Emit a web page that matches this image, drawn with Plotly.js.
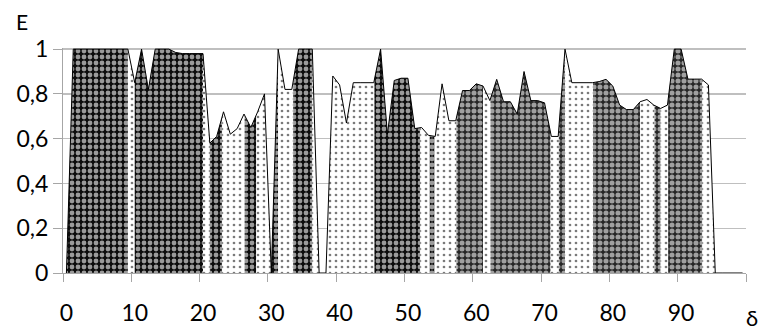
<!DOCTYPE html>
<html>
<head>
<meta charset="utf-8">
<script src="https://cdn.plot.ly/plotly-3.0.1.min.js"></script>
<style>html,body{margin:0;padding:0;background:#fff;}#chart{width:760px;height:333px;}</style>
</head>
<body>
<div id="chart"></div>
<script>
// ---- data ----
const delta = Array.from({length: 100}, (_, i) => i);
const E = [
  0, 1, 1, 1, 1, 1, 1, 1, 1, 1,
  0.85, 1, 0.82, 1, 1, 1, 0.985, 0.98, 0.98, 0.98,
  0.98, 0.58, 0.61, 0.72, 0.62, 0.645, 0.71, 0.65, 0.72, 0.80,
  0, 1, 0.82, 0.82, 1, 1, 1, 0, 0, 0.88,
  0.84, 0.67, 0.85, 0.85, 0.85, 0.85, 1, 0.62, 0.86, 0.87,
  0.87, 0.645, 0.65, 0.615, 0.61, 0.845, 0.68, 0.68, 0.815, 0.815,
  0.845, 0.835, 0.77, 0.865, 0.765, 0.765, 0.71, 0.90, 0.77, 0.77,
  0.76, 0.61, 0.61, 1, 0.85, 0.85, 0.85, 0.85, 0.855, 0.865,
  0.835, 0.75, 0.73, 0.73, 0.765, 0.775, 0.75, 0.735, 0.75, 1,
  1, 0.866, 0.866, 0.866, 0.84, 0, 0, 0, 0, 0
];
// pattern bands along δ
const bandStart = [0, 9, 10, 20, 21, 22.8, 26.1, 27.8, 30, 31, 33.2, 36, 38, 45.1, 51.8, 53.2, 53.9, 57.1, 61, 62.1, 70.9, 72.1, 73, 77.1, 84, 86.1, 87, 88.1, 93.1];
const bandEnd   = [9, 10, 20, 21, 22.8, 26.1, 27.8, 30, 31, 33.2, 36, 37, 45.1, 51.8, 53.2, 53.9, 57.1, 61, 62.1, 70.9, 72.1, 73, 77.1, 84, 86.1, 87, 88.1, 93.1, 95];
const bandKind  = ['D1','L','D1','L','D1','L','D1','L','D1','L','D1','L','L','D1','L','D1','L','D2','L','D2','L','D2','L','D2','L','D2','L','D2','L'];
const xLabelVals = [0, 10, 20, 30, 40, 50, 60, 70, 80, 90];
const xLabelText = ['0', '10', '20', '30', '40', '50', '60', '70', '80', '90'];
const xTickMarks = [-0.5, 9.5, 19.5, 29.5, 39.5, 49.5, 59.5, 69.5, 79.5, 89.5, 99.5];
const yTickVals = [0, 0.2, 0.4, 0.6, 0.8, 1];
const yTickText = ['0', '0,2', '0,4', '0,6', '0,8', '1'];

// ---- styles ----
const patterns = {
  D1: {shape: '.', bgcolor: '#0c0c0c', fgcolor: '#9a9a9a', size: 6, solidity: 0.5},
  D2: {shape: '.', bgcolor: '#262626', fgcolor: '#a0a0a0', size: 6, solidity: 0.55},
  L:  {shape: '.', bgcolor: '#ffffff', fgcolor: '#7a7a7a', size: 6, solidity: 0.16}
};

function interp(x) {
  const i = Math.min(Math.floor(x), delta.length - 2);
  const t = x - delta[i];
  return E[i] + (E[i + 1] - E[i]) * t;
}

const traces = [];
for (let b = 0; b < bandStart.length; b++) {
  const a = bandStart[b], z = bandEnd[b];
  const xs = [a], ys = [interp(a)];
  for (let k = Math.floor(a) + 1; k < z; k++) { xs.push(k); ys.push(E[k]); }
  xs.push(z); ys.push(interp(z));
  const p = patterns[bandKind[b]];
  traces.push({
    type: 'scatter', mode: 'lines', x: xs, y: ys,
    fill: 'tozeroy', fillcolor: p.bgcolor,
    fillpattern: p,
    line: {width: 0, color: 'rgba(0,0,0,0)'},
    hoverinfo: 'skip', showlegend: false
  });
}
traces.push({
  type: 'scatter', mode: 'lines', x: delta, y: E,
  line: {color: '#000000', width: 1},
  hoverinfo: 'skip', showlegend: false
});

const fontFam = 'Lato, "Open Sans", sans-serif';
const layout = {
  width: 760, height: 333,
  margin: {l: 63.3, r: 13.7, t: 47.9, b: 59.7, pad: 0},
  paper_bgcolor: '#ffffff', plot_bgcolor: '#ffffff',
  showlegend: false,
  font: {family: fontFam, size: 23, color: '#000000'},
  xaxis: {
    range: [-0.5, 99.5], tickmode: 'array', tickvals: xLabelVals, ticktext: xLabelText,
    ticks: '', ticklen: 0,
    minor: {tickmode: 'array', tickvals: xTickMarks, ticks: 'outside', ticklen: 8, tickcolor: '#a6a6a6', tickwidth: 1, showgrid: false},
    showline: true, linecolor: '#a6a6a6', linewidth: 1,
    showgrid: false, zeroline: false,
    ticklabelstandoff: 19,
    tickfont: {family: fontFam, size: 23, color: '#000'}
  },
  yaxis: {
    range: [0, 1.005], tickmode: 'array', tickvals: yTickVals, ticktext: yTickText,
    ticks: 'outside', ticklen: 9, tickcolor: '#a6a6a6', tickwidth: 1,
    showline: true, linecolor: '#a6a6a6', linewidth: 1,
    showgrid: true, gridcolor: '#bfbfbf', gridwidth: 1.3, zeroline: false,
    ticklabelstandoff: 0,
    tickfont: {family: fontFam, size: 23, color: '#000'}
  },
  annotations: [
    {text: 'E', xref: 'paper', yref: 'paper', x: 0, y: 1, xanchor: 'center', yanchor: 'middle',
     xshift: -41, yshift: 27, showarrow: false, font: {family: fontFam, size: 21, color: '#000'}},
    {text: 'δ', xref: 'paper', yref: 'paper', x: 1, y: 0, xanchor: 'center', yanchor: 'middle',
     xshift: 6, yshift: -44, showarrow: false, font: {family: fontFam, size: 22, color: '#000'}}
  ]
};

Plotly.newPlot('chart', traces, layout, {staticPlot: true, displayModeBar: false});
</script>
</body>
</html>
